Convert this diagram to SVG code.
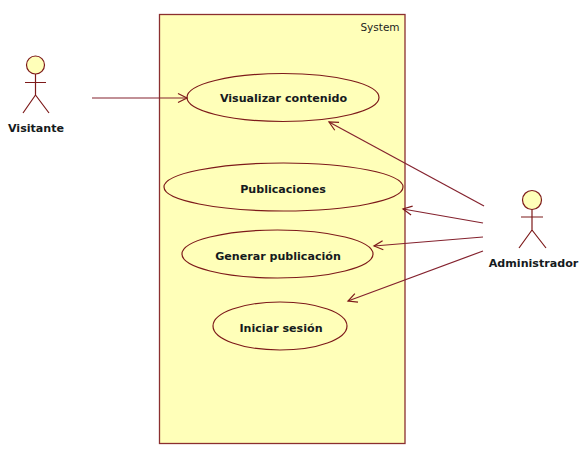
<svg xmlns="http://www.w3.org/2000/svg" width="588" height="461" viewBox="0 0 588 461">
<style>
.s{fill:#ffffb9;stroke:#8b2f2f;stroke-width:1.3}
.u{fill:#ffffb9;stroke:#7d1a1a;stroke-width:1.2}
.l{fill:none;stroke:#7d1a1a;stroke-width:1.2}
.c{fill:none;stroke:#84222e;stroke-width:1.2;marker-end:url(#a)}
.t{font-family:"DejaVu Sans",Verdana,sans-serif;font-weight:700;font-size:11.1px;fill:#151a20;text-anchor:middle}
</style>
<defs><marker id="a" markerUnits="userSpaceOnUse" markerWidth="16" markerHeight="14" refX="13" refY="7" orient="auto"><path d="M4 2.500L13 7L4 11.500" fill="none" stroke="#7d1a1a" stroke-width="1.2"/></marker></defs>
<rect width="588" height="461" fill="#fff"/>
<g id="system"><rect class="s" x="159.5" y="14.5" width="245.5" height="429"/><text x="380" y="31" font-family="'DejaVu Sans',sans-serif" font-size="10.5" fill="#1e1e1e" text-anchor="middle">System</text></g>
<g id="uc-visualizar"><ellipse class="u" cx="283" cy="97.5" rx="96" ry="24"/><text class="t" x="283.500" y="102">Visualizar contenido</text></g>
<g id="uc-publicaciones"><ellipse class="u" cx="283.5" cy="187" rx="119.5" ry="24"/><text class="t" x="283" y="193">Publicaciones</text></g>
<g id="uc-generar"><ellipse class="u" cx="277.5" cy="254" rx="95.5" ry="24"/><text class="t" x="278" y="260">Generar publicación</text></g>
<g id="uc-iniciar"><ellipse class="u" cx="280" cy="326" rx="67" ry="24"/><text class="t" x="281" y="332">Iniciar sesión</text></g>
<g id="actor-visitante"><circle class="u" cx="35.5" cy="65" r="9"/><path class="l" d="M35.5 74V95M25 82.500H46M35.500 95L23 113M35.500 95L49 113"/><text class="t" x="36" y="132">Visitante</text></g>
<g id="actor-administrador"><circle class="u" cx="532" cy="200" r="9.500"/><path class="l" d="M532 209.500V230M521 217H543M532 230L519 248M532 230L546 248"/><text class="t" x="533.500" y="267">Administrador</text></g>
<g id="connectors">
<path class="c" d="M92 98H187"/>
<path class="c" d="M484 206L329 122"/>
<path class="c" d="M483 223L403 209"/>
<path class="c" d="M483 237L374 246"/>
<path class="c" d="M483 251L348 301"/>
</g>
</svg>
